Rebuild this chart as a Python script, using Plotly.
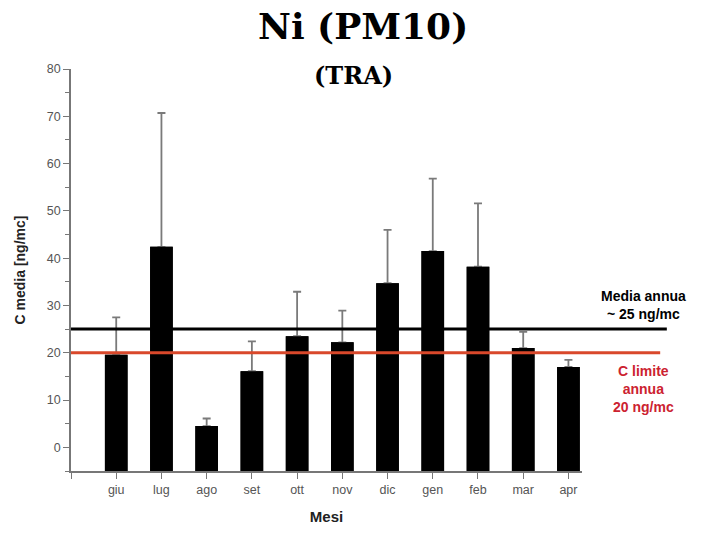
import plotly.graph_objects as go

# Monthly mean Ni concentration in PM10 (ng/mc) with upper standard deviation
months = ["giu", "lug", "ago", "set", "ott", "nov", "dic", "gen", "feb", "mar", "apr"]
c_media = [19.6, 42.4, 4.5, 16.1, 23.5, 22.2, 34.7, 41.5, 38.2, 21.0, 17.0]
dev_std = [7.9, 28.3, 1.6, 6.3, 9.4, 6.7, 11.3, 15.3, 13.4, 3.4, 1.5]

media_annua = 25
limite_annuo = 20

y_min, y_max = -5, 80

x_pos = list(range(len(months)))
bar_len = [v - y_min for v in c_media]

fig = go.Figure()
# Upper standard deviation whiskers (drawn first, bars cover their lower end)
fig.add_trace(go.Bar(
    x=x_pos,
    y=bar_len,
    base=y_min,
    width=0.5,
    marker=dict(color="black", line=dict(width=0)),
    error_y=dict(
        type="data",
        symmetric=False,
        array=dev_std,
        arrayminus=[0] * len(dev_std),
        color="#7a7a7a",
        thickness=1.8,
        width=4,
    ),
    showlegend=False,
    hoverinfo="skip",
))
# Bars rise from the bottom of the value axis up to each monthly mean
fig.add_trace(go.Bar(
    x=x_pos,
    y=bar_len,
    base=y_min,
    width=0.5,
    marker=dict(color="black", line=dict(width=0)),
    customdata=c_media,
    hovertemplate="%{customdata} ng/mc<extra></extra>",
    showlegend=False,
))

# Reference levels: annual mean and annual limit value
fig.add_shape(type="line", xref="paper", yref="y", x0=0, x1=1.166,
              y0=media_annua, y1=media_annua,
              line=dict(color="black", width=3))
fig.add_shape(type="line", xref="paper", yref="y", x0=0, x1=1.153,
              y0=limite_annuo, y1=limite_annuo,
              line=dict(color="#d9482b", width=3))

label_font = dict(family="Liberation Sans, Arial, sans-serif", size=14)
fig.add_annotation(xref="paper", yref="paper", x=1.12, y=0.413,
                   xanchor="center", yanchor="middle",
                   text="<b>Media annua<br>~ 25 ng/mc</b>", showarrow=False,
                   font=dict(color="black", **label_font), align="center")
fig.add_annotation(xref="paper", yref="paper", x=1.12, y=0.203,
                   xanchor="center", yanchor="middle",
                   text="<b>C limite<br>annua<br>20 ng/mc</b>", showarrow=False,
                   font=dict(color="#cc2230", **label_font), align="center")

# Titles
fig.add_annotation(xref="paper", yref="paper", x=0.571, y=1.0,
                   xanchor="center", yanchor="bottom", yshift=20,
                   text="<b>Ni (PM10)</b>", showarrow=False,
                   font=dict(family="DejaVu Serif", size=36, color="black"))
fig.add_annotation(xref="paper", yref="paper", x=0.552, y=1.0,
                   xanchor="center", yanchor="middle", yshift=-6,
                   text="<b>(TRA)</b>", showarrow=False,
                   font=dict(family="DejaVu Serif", size=24, color="black"))

axis_font = dict(family="Liberation Sans, Arial, sans-serif", size=12.5, color="#555555")

fig.update_layout(
    width=707,
    height=535,
    margin=dict(l=71, r=125, t=69, b=62),
    paper_bgcolor="white",
    plot_bgcolor="white",
    barmode="overlay",
    xaxis=dict(
        range=[-1, 10.3],
        tickmode="array",
        tickvals=x_pos,
        ticktext=months,
        ticks="outside",
        ticklen=6,
        tickcolor="#777777",
        tickfont=axis_font,
        showline=True,
        linecolor="#777777",
        linewidth=1.5,
        showgrid=False,
        zeroline=False,
        minor=dict(tickmode="array", tickvals=[-1], ticks="outside",
                   ticklen=6, tickcolor="#777777"),
        title=dict(text="<b>Mesi</b>", standoff=16,
                   font=dict(family="Liberation Sans, Arial, sans-serif", size=15, color="#222222")),
    ),
    yaxis=dict(
        range=[y_min, y_max],
        tickmode="linear",
        tick0=0,
        dtick=10,
        ticks="outside",
        ticklen=6,
        tickcolor="#777777",
        tickfont=axis_font,
        showline=True,
        linecolor="#777777",
        linewidth=1.5,
        showgrid=False,
        zeroline=False,
        minor=dict(dtick=5, tick0=0, ticks="outside", ticklen=4, tickcolor="#777777"),
        title=dict(text="<b>C media [ng/mc]</b>", standoff=18,
                   font=dict(family="Liberation Sans, Arial, sans-serif", size=14, color="#222222")),
    ),
)

fig.write_html("out.html")
